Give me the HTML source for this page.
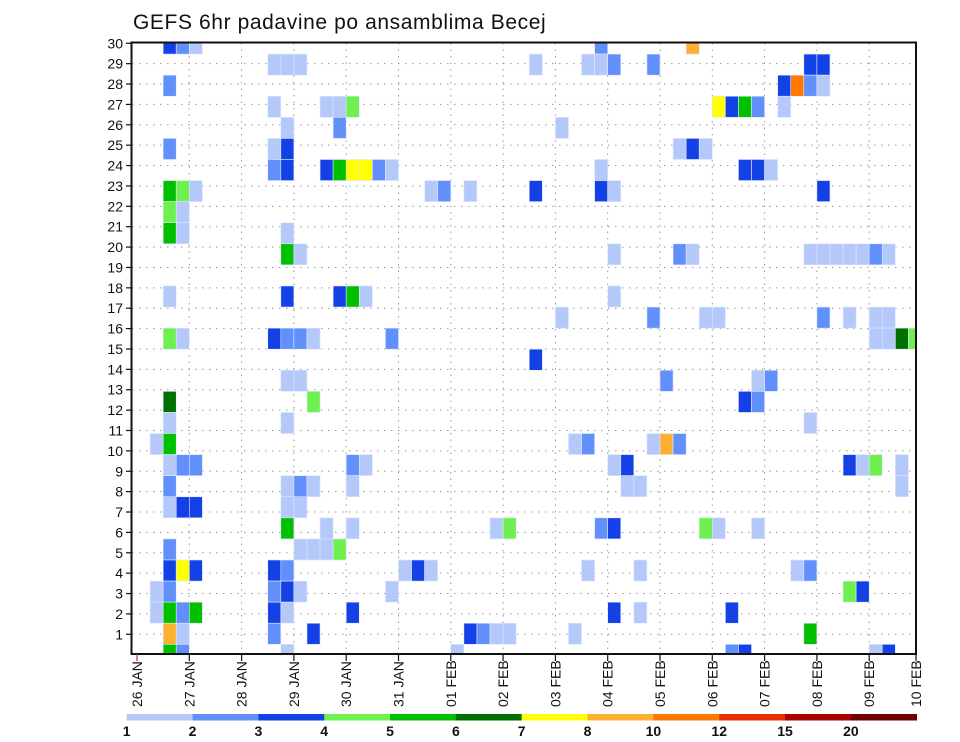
<!DOCTYPE html>
<html><head><meta charset="utf-8">
<style>
html,body{margin:0;padding:0;background:#fff;}
svg{display:block;font-family:"Liberation Sans",sans-serif;}
</style></head>
<body>
<svg id="chart" width="960" height="742" viewBox="0 0 960 742" xmlns="http://www.w3.org/2000/svg">
<text x="133" y="29" font-size="21" fill="#111" letter-spacing="0.6">GEFS 6hr padavine po ansamblima Becej</text>
<defs><clipPath id="plotclip"><rect x="132" y="43" width="784" height="611"/></clipPath></defs>
<g id="grid"></g>
<g id="cells" clip-path="url(#plotclip)"></g>
<rect x="131.5" y="42.5" width="784.5" height="611.5" fill="none" stroke="#111" stroke-width="2"/>
<g id="yaxis"></g>
<g id="xaxis"></g>
<g id="legend"></g>
</svg>
<script>
const dayLabels = ["26 JAN","27 JAN","28 JAN","29 JAN","30 JAN","31 JAN","01 FEB","02 FEB","03 FEB","04 FEB","05 FEB","06 FEB","07 FEB","08 FEB","09 FEB","10 FEB"];
const memberLabels = [1,2,3,4,5,6,7,8,9,10,11,12,13,14,15,16,17,18,19,20,21,22,23,24,25,26,27,28,29,30];
const levels = [1,2,3,4,5,6,7,8,10,12,15,20];
const levelColors = ["#b4c8fa","#6290fa","#1441e6","#6ef050","#00c000","#007000","#ffff00","#ffb030","#ff7800","#e63200","#aa0000","#6e0000"];
const cellTime = [
2,3,4,35,42,
10,11,12,30,34,35,36,39,51,52,
2,49,50,51,52,
10,14,15,16,44,45,46,47,49,
11,15,32,
2,10,11,41,42,43,
10,11,14,15,16,17,18,19,35,46,47,48,
2,3,4,22,23,25,30,35,36,52,
2,3,
2,3,11,
11,12,36,41,42,51,52,53,54,55,56,57,
2,11,15,16,17,36,
32,39,43,44,52,54,56,57,
2,3,10,11,12,13,19,56,57,58,59,
30,
11,12,40,47,48,
2,13,46,47,
2,11,51,
1,2,33,34,39,40,41,
2,3,4,16,17,36,37,54,55,56,58,
2,11,12,13,16,37,38,58,
2,3,4,11,12,
11,14,16,27,28,35,36,43,44,47,
2,12,13,14,15,
2,3,4,10,11,20,21,22,34,38,50,51,
1,2,10,11,12,19,54,55,
1,2,3,4,10,11,16,36,38,45,
2,3,10,13,25,26,27,28,33,51,
2,3,11,24,45,46,56,57];
const cellMember = [
29,29,29,29,29,
28,28,28,28,28,28,28,28,28,28,
27,27,27,27,27,
26,26,26,26,26,26,26,26,26,
25,25,25,
24,24,24,24,24,24,
23,23,23,23,23,23,23,23,23,23,23,23,
22,22,22,22,22,22,22,22,22,22,
21,21,
20,20,20,
19,19,19,19,19,19,19,19,19,19,19,19,
17,17,17,17,17,17,
16,16,16,16,16,16,16,16,
15,15,15,15,15,15,15,15,15,15,15,
14,
13,13,13,13,13,
12,12,12,12,
11,11,11,
10,10,10,10,10,10,10,
9,9,9,9,9,9,9,9,9,9,9,
8,8,8,8,8,8,8,8,
7,7,7,7,7,
6,6,6,6,6,6,6,6,6,6,
5,5,5,5,5,
4,4,4,4,4,4,4,4,4,4,4,4,
3,3,3,3,3,3,3,3,
2,2,2,2,2,2,2,2,2,2,
1,1,1,1,1,1,1,1,1,1,
0,0,0,0,0,0,0,0];
const cellValue = [
3.5,2.5,1.5,2.5,9,
1.5,1.5,1.5,1.5,1.5,1.5,2.5,2.5,3.5,3.5,
2.5,3.5,11,2.5,1.5,
1.5,1.5,1.5,4.5,7.5,3.5,5.5,2.5,1.5,
1.5,2.5,1.5,
2.5,1.5,3.5,1.5,3.5,1.5,
2.5,3.5,3.5,5.5,7.5,7.5,2.5,1.5,1.5,3.5,3.5,1.5,
5.5,4.5,1.5,1.5,2.5,1.5,3.5,3.5,1.5,3.5,
4.5,1.5,
5.5,1.5,1.5,
5.5,1.5,1.5,2.5,1.5,1.5,1.5,1.5,1.5,1.5,2.5,1.5,
1.5,3.5,3.5,5.5,1.5,1.5,
1.5,2.5,1.5,1.5,2.5,1.5,1.5,1.5,
4.5,1.5,3.5,2.5,2.5,1.5,2.5,1.5,1.5,6.5,4.5,
3.5,
1.5,1.5,2.5,1.5,2.5,
6.5,4.5,3.5,2.5,
1.5,1.5,1.5,
1.5,5.5,1.5,2.5,1.5,9,2.5,
1.5,2.5,2.5,2.5,1.5,1.5,3.5,3.5,1.5,4.5,1.5,
2.5,1.5,2.5,1.5,1.5,1.5,1.5,1.5,
1.5,3.5,3.5,1.5,1.5,
5.5,1.5,1.5,1.5,4.5,2.5,3.5,4.5,1.5,1.5,
2.5,1.5,1.5,1.5,4.5,
3.5,7.5,3.5,3.5,2.5,1.5,3.5,1.5,1.5,1.5,1.5,2.5,
1.5,2.5,2.5,3.5,1.5,1.5,4.5,3.5,
1.5,5.5,2.5,5.5,3.5,1.5,3.5,3.5,1.5,3.5,
9,1.5,2.5,3.5,3.5,2.5,1.5,1.5,1.5,5.5,
5.5,2.5,1.5,1.5,2.5,3.5,1.5,3.5];

const NS = "http://www.w3.org/2000/svg";
const X0 = 137, STEP = 13.075, RIGHT = 916;
const ROW_B = 665.4, ROW_H = 21.08;
function xScale(t){ return X0 + t*STEP; }           // t in 6-hour steps
function cellBottom(m){ return ROW_B - m*ROW_H; }   // member row
function labelY(k){ return 634.3 - (k-1)*20.38; }  // y tick label k
function colorFor(v){
  let c = levelColors[0];
  for (let i=0;i<levels.length;i++){ if (v>=levels[i]) c = levelColors[i]; }
  return c;
}
function mk(tag, attrs, parent){
  const e = document.createElementNS(NS, tag);
  for (const k in attrs) e.setAttribute(k, attrs[k]);
  parent.appendChild(e);
  return e;
}
const grid = document.getElementById('grid');
const cells = document.getElementById('cells');
const yaxis = document.getElementById('yaxis');
const xaxis = document.getElementById('xaxis');
const legend = document.getElementById('legend');

// horizontal dotted grid + y labels
memberLabels.forEach(k=>{
  const y = labelY(k);
  if (k < 30) {
    const gl = mk('line',{x1:132,x2:916,y1:y,y2:y,stroke:'#999','stroke-width':1,'stroke-dasharray':'1.5 5.5'},grid);
    
    
  }
  const tk = mk('line',{x1:126,x2:131,y1:y,y2:y,stroke:'#111','stroke-width':1.2},yaxis);
  
  
  const t = mk('text',{x:123,y:y+5,'text-anchor':'end','font-size':14,fill:'#111'},yaxis);
  t.textContent = k;
  
  
});

// vertical day gridlines + x labels
dayLabels.forEach((lab,i)=>{
  let x = xScale(i*4);
  if (x > RIGHT) x = RIGHT;
  if (i>0 && x < RIGHT) {
    const gl = mk('line',{x1:x,x2:x,y1:43,y2:654,stroke:'#999','stroke-width':1,'stroke-dasharray':'1.5 5'},grid);
    
    
  }
  const tk = mk('line',{x1:x,x2:x,y1:654,y2:661,stroke:i===0?'#c03030':'#111','stroke-width':1.2},xaxis);
  
  
  const t = mk('text',{x:0,y:0,'font-size':14,fill:'#111','dominant-baseline':'central',
    transform:'translate('+x+',707) rotate(-90)'},xaxis);
  t.textContent = lab;
  
  
});

// cells
for (let i=0;i<cellTime.length;i++){
  const x = xScale(cellTime[i]);
  const yb = cellBottom(cellMember[i]);
  const r = mk('rect',{x:x,y:yb-ROW_H,width:STEP,height:ROW_H,fill:colorFor(cellValue[i]),stroke:'#dfe8ff','stroke-width':0.6},cells);
  
  
}

// colorbar
const LX = 126.7, LW = (916.7-126.7)/levels.length;
levels.forEach((lv,i)=>{
  const r = mk('rect',{x:LX+i*LW,y:714,width:LW+0.3,height:6.5,fill:levelColors[i]},legend);
  
  
  const t = mk('text',{x:LX+i*LW,y:736,'text-anchor':'middle','font-size':14,'font-weight':'bold',fill:'#111'},legend);
  t.textContent = lv;
  
  
});
</script>
</body></html>
